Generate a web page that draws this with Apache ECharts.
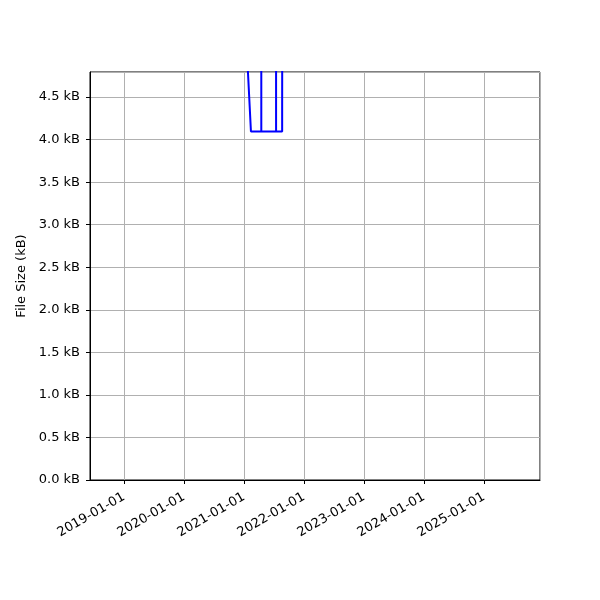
<!DOCTYPE html>
<html>
<head>
<meta charset="utf-8">
<script src="https://cdn.jsdelivr.net/npm/echarts@6/dist/echarts.min.js"></script>
<style>html,body{margin:0;padding:0;background:#fff}#c{width:600px;height:600px}</style>
</head>
<body>
<div id="c"></div>
<script>
// Data (sizes in kB)
const dates = ['2021-01-01','2021-02-12','2021-04-16','2021-04-16','2021-04-16','2021-07-15','2021-07-15','2021-07-15','2021-08-21','2021-08-21','2021-08-31','2021-08-31'];
const sizes = [5.7, 4.096, 4.096, 20, 4.096, 4.096, 20, 4.096, 4.096, 4.4, 4.4, 20];
const xMin = '2018-06-08';
const xMax = '2025-12-08';
const yMin = 0;
const yMax = 4.795;

const chart = echarts.init(document.getElementById('c'), null, {renderer: 'canvas'});
const font = 'DejaVu Sans';
const DAY = 24 * 3600 * 1000;
chart.setOption({
  animation: false,
  textStyle: {fontFamily: font},
  grid: {left: 90, right: 60, top: 72, bottom: 120, show: true, borderColor: '#000', borderWidth: 1, backgroundColor: 'transparent'},
  xAxis: {
    type: 'time',
    min: xMin,
    max: xMax,
    splitNumber: 8,
    minInterval: 365 * DAY,
    maxInterval: 366 * DAY,
    axisLine: {show: true, lineStyle: {color: '#000', width: 1}},
    axisTick: {show: true, length: 4, lineStyle: {color: '#000', width: 1}},
    axisLabel: {
      rotate: 30, fontFamily: font, fontSize: 13, color: '#000', margin: 16,
      formatter: function (v) {
        const d = new Date(v);
        const p = n => String(n).padStart(2, '0');
        return d.getFullYear() + '-' + p(d.getMonth() + 1) + '-' + p(d.getDate());
      },
      showMinLabel: false, showMaxLabel: false
    },
    splitLine: {show: true, lineStyle: {color: '#b0b0b0', width: 1}}
  },
  yAxis: {
    type: 'value',
    min: yMin,
    max: yMax,
    interval: 0.5,
    name: 'File Size (kB)',
    nameLocation: 'middle',
    nameGap: 58,
    nameTextStyle: {fontFamily: font, fontSize: 13, color: '#000'},
    axisLine: {show: true, lineStyle: {color: '#000', width: 1}},
    axisTick: {show: true, length: 4, lineStyle: {color: '#000', width: 1}},
    axisLabel: {
      fontFamily: font, fontSize: 13, color: '#000', margin: 10,
      showMaxLabel: false,
      formatter: v => v.toFixed(1) + ' kB'
    },
    splitLine: {show: true, lineStyle: {color: '#b0b0b0', width: 1}}
  },
  series: [{
    type: 'line',
    data: dates.map((d, i) => [d, sizes[i]]),
    showSymbol: false,
    symbol: 'none',
    clip: true,
    lineStyle: {color: '#0000ff', width: 2},
    itemStyle: {color: '#0000ff'}
  }]
});
</script>
</body>
</html>
